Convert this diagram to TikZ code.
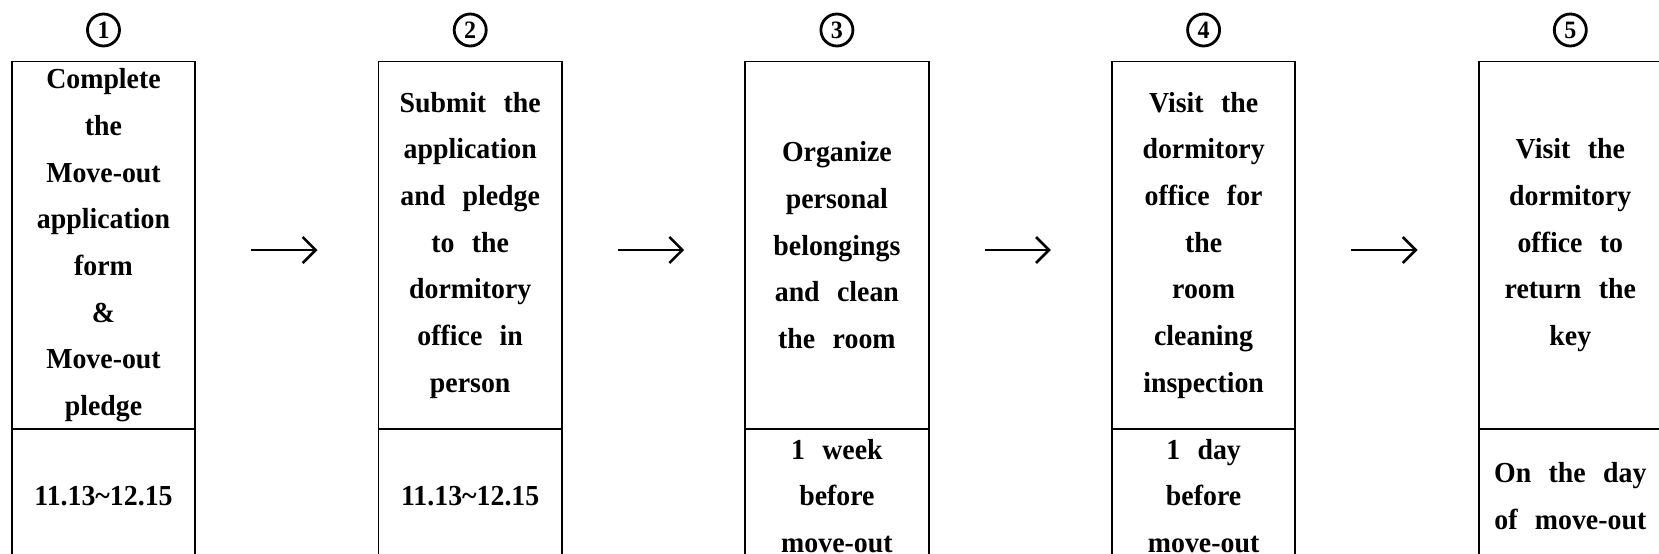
\documentclass[tikz,border=0pt]{standalone}
\usepackage{fontspec}
\newfontfamily\boxf[FakeStretch=0.96]{Liberation Serif}
\usetikzlibrary{arrows.meta}
\newcommand\txtfont{\boxf\bfseries\fontsize{14.5}{23.35}\selectfont\spaceskip=0.6em\relax}
\tikzset{
 cell/.style={draw, line width=0.95pt, minimum width=91.75pt, inner sep=0pt, align=center, font=\txtfont, anchor=north},
 topcell/.style={cell, minimum height=183.75pt},
 botcell/.style={cell, minimum height=67pt},
 num/.style={circle, draw, line width=1.4pt, minimum size=16pt, inner sep=0pt, font=\boxf\bfseries\fontsize{12.5}{12.5}\selectfont},
 flow/.style={-{Straight Barb[length=6.5pt,width=13pt,line width=1.3pt]}, line width=1.3pt}
}
\begin{document}
\begin{tikzpicture}[x=0.5pt,y=-0.5pt]
\useasboundingbox (0,0) rectangle (1659,553);
% numbers
\node[num] (n1) at (103.5,30) {1};
\node[num] (n2) at (470.2,30) {2};
\node[num] (n3) at (836.9,30) {3};
\node[num] (n4) at (1203.6,30) {4};
\node[num] (n5) at (1570.3,30) {5};
% top cells
\node[topcell] (t1) at (103.5,60.5) {Complete\\the\\Move-out\\application\\form\\\&\\Move-out\\pledge};
\node[topcell] (t2) at (470.2,60.5) {Submit the\\application\\and pledge\\to the\\dormitory\\office in\\person};
\node[topcell] (t3) at (836.9,60.5) {Organize\\personal\\belongings\\and clean\\the room};
\node[topcell] (t4) at (1203.6,60.5) {Visit the\\dormitory\\office for\\the\\room\\cleaning\\inspection};
\node[topcell] (t5) at (1570.3,60.5) {Visit the\\dormitory\\office to\\return the\\key};
% bottom cells
\node[botcell] (b1) at (103.5,428) {11.13\textasciitilde12.15};
\node[botcell] (b2) at (470.2,428) {11.13\textasciitilde12.15};
\node[botcell] (b3) at (836.9,428) {1 week\\before\\move-out};
\node[botcell] (b4) at (1203.6,428) {1 day\\before\\move-out};
\node[botcell] (b5) at (1570.3,428) {On the day\\of move-out};
% arrows
\draw[flow] ([xshift=27.5pt,yshift=-2.4pt]t1.east) -- ([xshift=-30pt,yshift=-2.4pt]t2.west);
\draw[flow] ([xshift=27.5pt,yshift=-2.4pt]t2.east) -- ([xshift=-30pt,yshift=-2.4pt]t3.west);
\draw[flow] ([xshift=27.5pt,yshift=-2.4pt]t3.east) -- ([xshift=-30pt,yshift=-2.4pt]t4.west);
\draw[flow] ([xshift=27.5pt,yshift=-2.4pt]t4.east) -- ([xshift=-30pt,yshift=-2.4pt]t5.west);
\end{tikzpicture}
\end{document}
